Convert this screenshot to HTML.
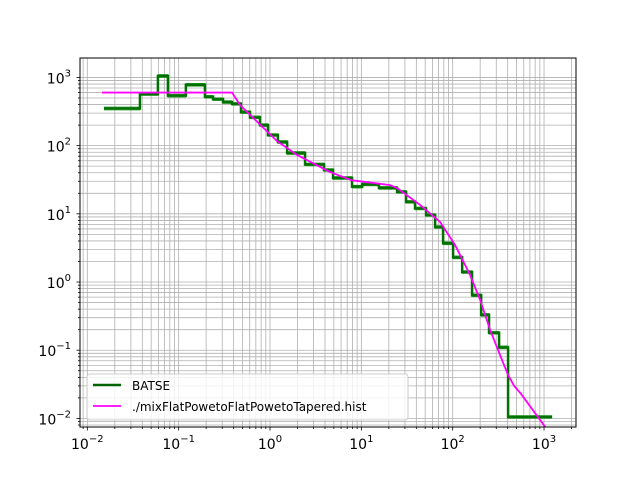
<!DOCTYPE html>
<html><head><meta charset="utf-8"><style>
body{margin:0;background:#fff}
svg text{font-family:"DejaVu Sans","Liberation Sans",sans-serif;}
</style></head><body>
<svg id="c" width="640" height="480" xmlns="http://www.w3.org/2000/svg">
<rect width="640" height="480" fill="#fff"/>
<g id="grid"></g>
<g id="series"></g>
<rect x="80" y="58" width="496" height="369" fill="none" stroke="#000" stroke-width="1"/>
<g id="ticks"></g>
<g>
<rect x="87" y="374" width="321" height="46" rx="3" fill="#fff" fill-opacity="0.8" stroke="#ccc"/>
<line x1="93" y1="385" x2="121" y2="385" stroke="#006400" stroke-width="2.5"/>
<text x="132" y="390" font-size="12">BATSE</text>
<line x1="93" y1="406" x2="121" y2="406" stroke="#ff00ff" stroke-width="1.8"/>
<text x="132" y="411" font-size="12">./mixFlatPowetoFlatPowetoTapered.hist</text>
</g>
</svg>
<script>
const binEdges=[0.0152,0.0377,0.0593,0.0763,0.120,0.194,0.238,0.306,0.384,0.481,0.604,0.777,0.951,1.22,1.54,2.42,3.90,4.90,7.91,10.2,15.6,24.6,30.9,38.7,51.1,64.2,78.5,101,127,163,205,250,322,404,1227];
const binValues=[350,570,1050,540,780,520,480,435,410,310,260,200,143,113,78,53,44,33.5,25,27,24,21,15,12,9.6,6.4,3.7,2.3,1.4,0.64,0.33,0.18,0.11,0.0105];
const modelX=[0.0145,0.384,0.47,1.19,1.98,4.54,7.9,20.6,24.6,44,72.8,106,155,200,257,330,405,470,550,1030];
const modelY=[600,600,394,117,73,41,31,26.4,23.9,13.5,7.6,3.5,1.27,0.545,0.198,0.085,0.043,0.03,0.0236,0.0075];
const xTicks=[-2,-1,0,1,2,3];
const yTicks=[-2,-1,0,1,2,3];
const X0=80,X1=576,Y0=427,Y1=58,LX0=-2.08,LX1=3.35,LY0=-2.126,LY1=3.285;
const sx=v=>X0+(Math.log10(v)-LX0)/(LX1-LX0)*(X1-X0);
const sy=v=>Y0-(Math.log10(v)-LY0)/(LY1-LY0)*(Y0-Y1);
const NS="http://www.w3.org/2000/svg";
function mk(t,a,p){const e=document.createElementNS(NS,t);for(const k in a)e.setAttribute(k,a[k]);p.appendChild(e);return e;}
const G=document.getElementById('grid'),T=document.getElementById('ticks'),S=document.getElementById('series');
for(let d=-3;d<=4;d++)for(let m=1;m<10;m++){
 const v=m*Math.pow(10,d),x=sx(v),y=sy(v);
 if(x>X0&&x<X1){const l=mk('line',{x1:x,x2:x,y1:Y1,y2:Y0,stroke:'#b0b0b0','stroke-width':0.8},G);
 
 
 mk('line',{x1:x,x2:x,y1:Y0,y2:Y0+(m==1?3.5:2),stroke:'#000','stroke-width':0.8},T);}
 if(y>Y1&&y<Y0){const l=mk('line',{x1:X0,x2:X1,y1:y,y2:y,stroke:'#b0b0b0','stroke-width':0.8},G);
 
 
 mk('line',{x1:X0,x2:X0-(m==1?3.5:2),y1:y,y2:y,stroke:'#000','stroke-width':0.8},T);}
}
xTicks.forEach(d=>{const t=mk('text',{x:sx(Math.pow(10,d)),y:449,'font-size':14,'text-anchor':'middle'},T);
 
 
 t.innerHTML='10<tspan dy="-7" font-size="10">'+(d<0?'\u2212'+(-d):d)+'</tspan>';});
yTicks.forEach(d=>{const t=mk('text',{x:71,y:sy(Math.pow(10,d))+6,'font-size':14,'text-anchor':'end'},T);
 
 
 t.innerHTML='10<tspan dy="-7" font-size="10">'+(d<0?'\u2212'+(-d):d)+'</tspan>';});
function stepPath(f){let p='';for(let i=0;i<binValues.length;i++){const y=sy(binValues[i]*f);p+=(i?'L':'M')+sx(binEdges[i])+','+y+'L'+sx(binEdges[i+1])+','+y;}return p;}
[[1.05,'#2ca02c',0.8],[1/1.05,'#2ca02c',0.8],[1,'#007000',2.5]].forEach(([f,c,w],i)=>{
 const p=mk('path',{d:stepPath(f),fill:'none',stroke:c,'stroke-width':w},S);
 
 });
let md='';modelX.forEach((v,i)=>{md+=(i?'L':'M')+sx(v)+','+sy(modelY[i]);});
const mp=mk('path',{d:md,fill:'none',stroke:'#ff00ff','stroke-width':1.8},S);


</script>
</body></html>
